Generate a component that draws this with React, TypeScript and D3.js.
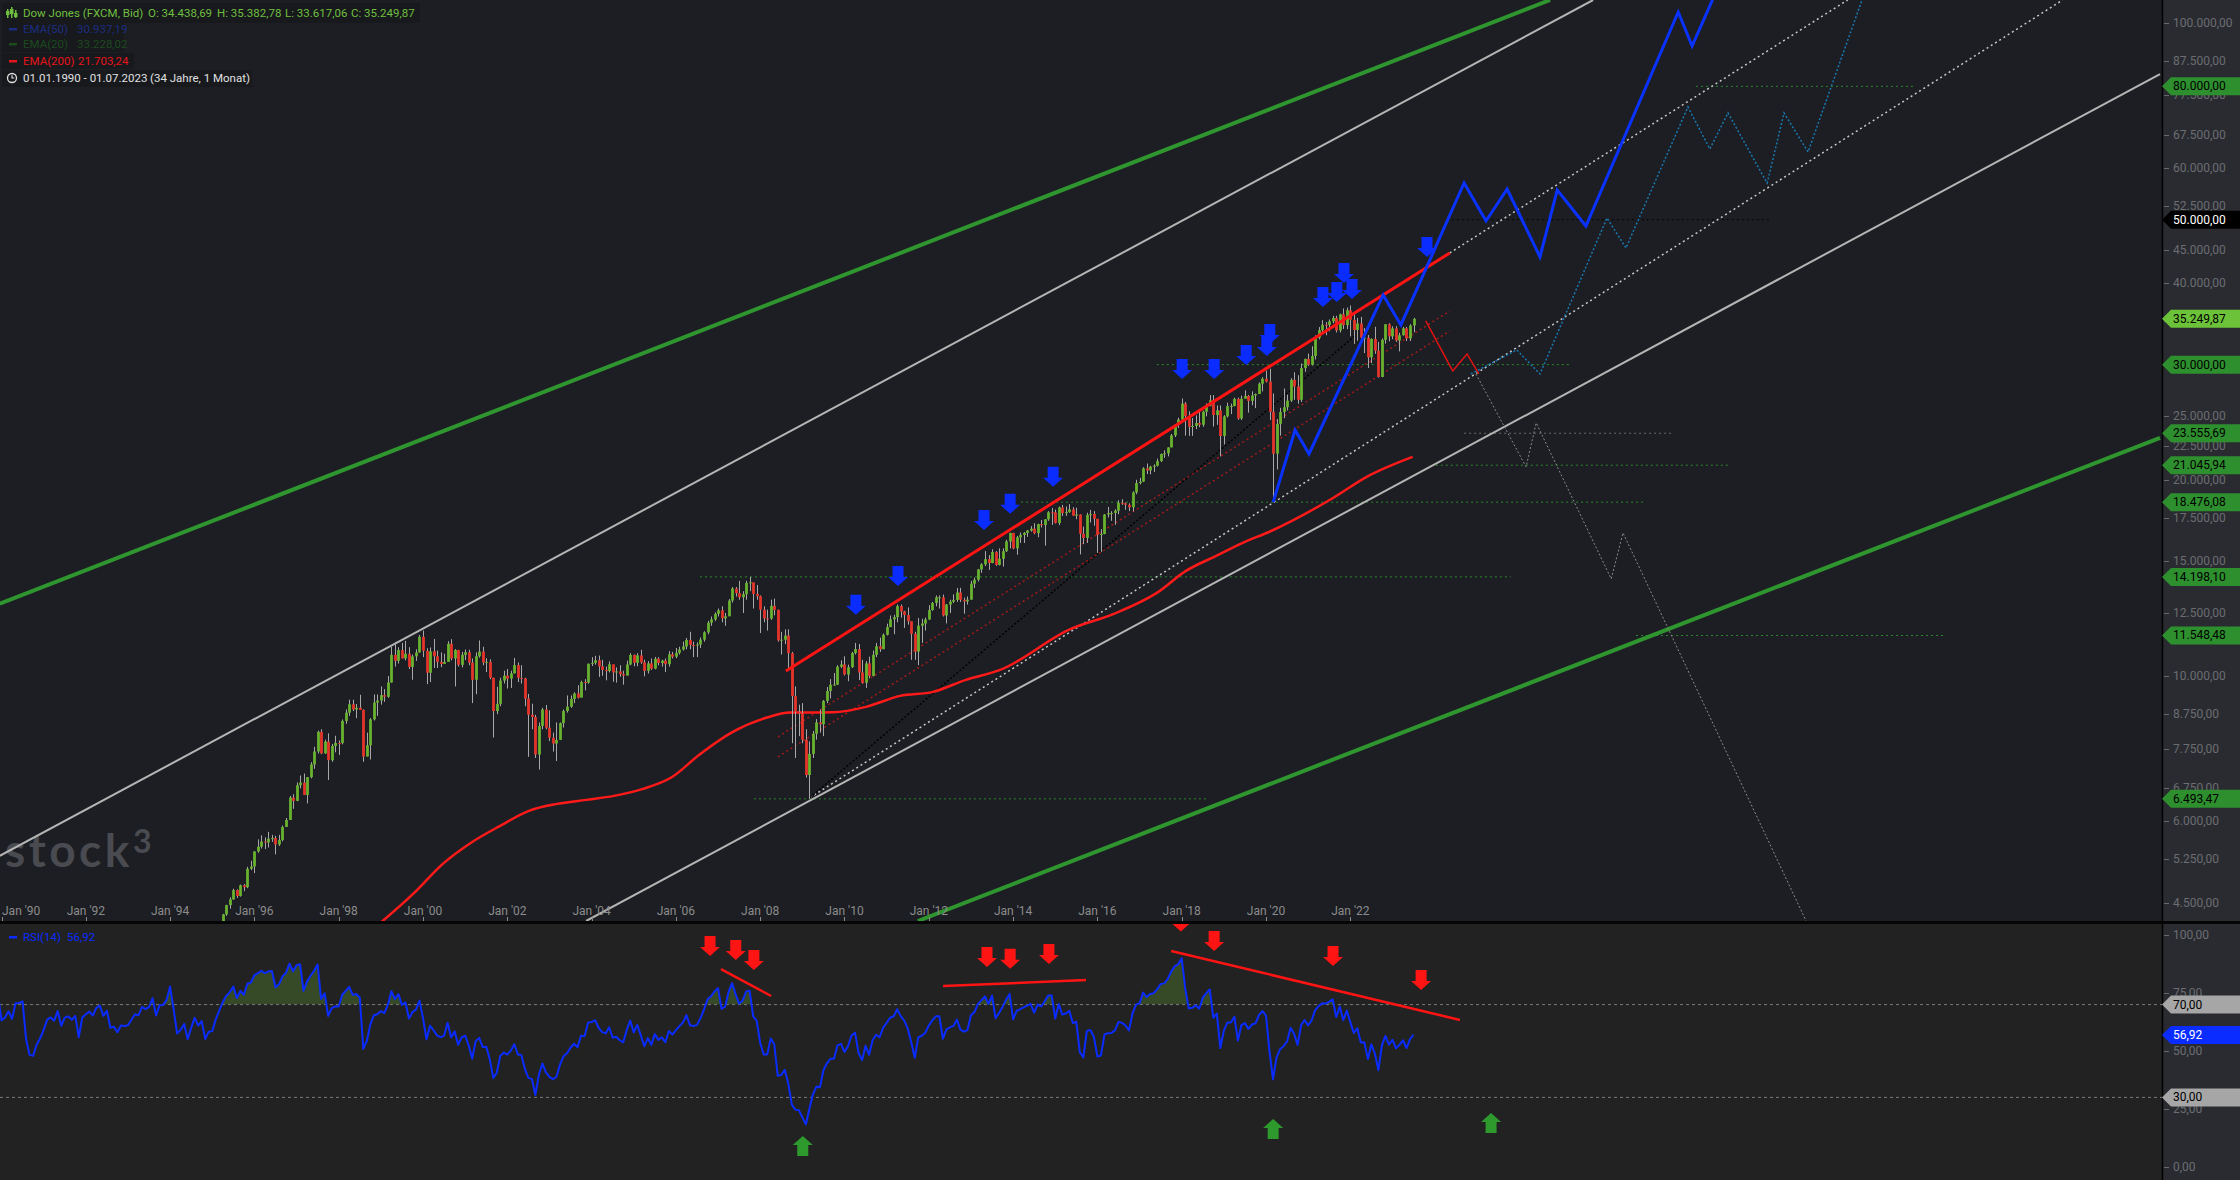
import React from 'react';
import * as d3 from 'd3';

const W = 2240, H = 1180;
const PR = 2162; // right edge of plot area
const MB = 921;  // bottom of main panel
const RT = 924;  // top of RSI panel

// ---------- DATA ----------
// Monthly closes Jan 1988 - Dec 1994 (used for RSI history)
const earlyCloses = [
  1958, 2072, 1988, 2032, 2031, 2142, 2129, 2032, 2113, 2149, 2115, 2169,
  2342, 2258, 2293, 2419, 2480, 2440, 2661, 2737, 2693, 2645, 2706, 2753,
  2591, 2627, 2707, 2657, 2877, 2881, 2905, 2614, 2453, 2442, 2560, 2634,
  2736, 2882, 2914, 2888, 3028, 2907, 3025, 3044, 3017, 3069, 2895, 3169,
  3224, 3267, 3236, 3359, 3397, 3319, 3394, 3257, 3272, 3226, 3306, 3301,
  3310, 3370, 3435, 3428, 3528, 3516, 3540, 3651, 3555, 3681, 3684, 3754,
  3978, 3832, 3636, 3682, 3758, 3625, 3765, 3913, 3843, 3908, 3739, 3834,
];
const earlyStartYear = 1988;

// Monthly candles from Jan 1995 to Jul 2023
const candleStartYear = 1995;
const firstOpen = 3834;
const closes = [
  3843, 4011, 4158, 4321, 4465, 4556, 4708, 4611, 4789, 4756, 5075, 5117,
  5395, 5486, 5587, 5569, 5643, 5655, 5529, 5616, 5882, 6029, 6522, 6448,
  6813, 6878, 6584, 7009, 7331, 7673, 8223, 7622, 7945, 7442, 7823, 7908,
  7907, 8546, 8800, 9063, 8900, 8952, 8883, 7539, 7843, 8592, 9117, 9181,
  9359, 9307, 9786, 10789, 10560, 10971, 10655, 10829, 10337, 10729, 10878, 11497,
  10941, 10128, 10922, 10734, 10522, 10448, 10522, 11215, 10651, 10971, 10415, 10787,
  10887, 10495, 9879, 10735, 10912, 10502, 10523, 9950, 8848, 9075, 9852, 10022,
  9920, 10106, 10404, 9946, 9925, 9243, 8737, 8664, 7592, 8397, 8896, 8342,
  8054, 7891, 7992, 8480, 8850, 8985, 9234, 9416, 9275, 9801, 9782, 10454,
  10488, 10584, 10358, 10226, 10188, 10435, 10140, 10174, 10080, 10027, 10428, 10783,
  10490, 10766, 10504, 10193, 10467, 10275, 10641, 10482, 10569, 10440, 10806, 10718,
  10865, 10993, 11109, 11367, 11168, 11150, 11186, 11381, 11679, 12081, 12222, 12463,
  12622, 12269, 12354, 13063, 13628, 13409, 13212, 13358, 13896, 13930, 13372, 13265,
  12650, 12266, 12263, 12820, 12638, 11350, 11378, 11544, 10851, 9325, 8829, 8776,
  8001, 7063, 7609, 8168, 8500, 8447, 9172, 9496, 9712, 9713, 10345, 10428,
  10067, 10325, 10857, 11009, 10137, 9774, 10466, 10015, 10788, 11118, 11006, 11578,
  11892, 12226, 12320, 12811, 12570, 12414, 12143, 11614, 10913, 11955, 12046, 12218,
  12633, 12952, 13212, 13214, 12393, 12880, 13009, 13091, 13437, 13096, 13026, 13104,
  13861, 14054, 14579, 14840, 15116, 14910, 15500, 14810, 15130, 15546, 16086, 16577,
  15699, 16322, 16458, 16581, 16717, 16827, 16563, 17098, 17043, 17391, 17828, 17823,
  17165, 18133, 17776, 17841, 18011, 17620, 17690, 16528, 16285, 17664, 17720, 17425,
  16466, 16517, 17685, 17774, 17787, 17930, 18432, 18401, 18308, 18142, 19124, 19763,
  19864, 20812, 20663, 20941, 21009, 21350, 21891, 21948, 22405, 23377, 24272, 24719,
  26149, 25029, 24103, 24163, 24416, 24271, 25415, 25965, 26458, 25116, 25538, 23327,
  24999, 25916, 25929, 26593, 24815, 26600, 26864, 26403, 26917, 27046, 28051, 28538,
  28256, 25409, 21917, 24346, 25383, 25813, 26428, 28430, 27782, 26502, 29638, 30606,
  29983, 30932, 32982, 33875, 34529, 34503, 34935, 35361, 33844, 35820, 34484, 36338,
  35132, 33893, 34678, 32977, 32990, 30775, 32845, 31510, 28726, 32733, 34590, 33147,
  34086, 32657, 33274, 34098, 32908, 34439, 35250,
];
const highs = [
  3900, 4030, 4170, 4330, 4470, 4590, 4730, 4720, 4800, 4810, 5110, 5220,
  5400, 5630, 5710, 5670, 5780, 5720, 5700, 5720, 5910, 6070, 6560, 6600,
  6880, 7050, 7100, 7010, 7390, 7800, 8260, 8300, 8000, 8180, 7880, 8110,
  7980, 8590, 8900, 9210, 9210, 9070, 9370, 8900, 8200, 8630, 9380, 9380,
  9650, 9560, 10010, 11090, 11290, 11080, 11250, 11330, 11080, 10800, 11000, 11570,
  11750, 11040, 11070, 11410, 10950, 10880, 10830, 11320, 11400, 11010, 10980, 10900,
  10990, 10980, 10650, 10880, 11350, 11100, 10660, 10620, 9950, 9640, 9950, 10200,
  10260, 10200, 10670, 10500, 10400, 9950, 9400, 9080, 8730, 8500, 8950, 9040,
  8870, 8200, 8500, 8500, 8900, 9350, 9350, 9450, 9690, 9850, 9900, 10460,
  10700, 10750, 10760, 10600, 10350, 10540, 10400, 10320, 10400, 10200, 10570, 10850,
  10800, 10850, 10980, 10600, 10550, 10650, 10710, 10700, 10600, 10650, 10930, 10900,
  11050, 11100, 11300, 11450, 11700, 11300, 11270, 11470, 11720, 12160, 12350, 12530,
  12700, 12800, 12500, 13130, 13700, 13700, 14000, 13500, 14000, 14198, 13700, 13800,
  13300, 12800, 12650, 13100, 13150, 12650, 11700, 11800, 11800, 10900, 9650, 9050,
  9100, 8300, 7950, 8250, 8600, 8900, 9200, 9630, 9900, 10120, 10400, 10580,
  10730, 10420, 10900, 11250, 11210, 10600, 10550, 10720, 10950, 11250, 11460, 11630,
  12040, 12390, 12420, 12880, 12880, 12600, 12750, 12130, 11700, 12280, 12250, 12300,
  12850, 13000, 13300, 13300, 13340, 12900, 13100, 13350, 13650, 13660, 13200, 13250,
  14000, 14160, 14600, 14900, 15550, 15330, 15650, 15550, 15700, 15700, 16180, 16590,
  16590, 16400, 16600, 16630, 16750, 16980, 17150, 17120, 17350, 17400, 17900, 18100,
  18000, 18200, 18300, 18200, 18350, 18150, 18120, 17700, 16950, 17800, 17980, 17900,
  17400, 16800, 17720, 18170, 17900, 18020, 18600, 18670, 18450, 18400, 19200, 19990,
  20130, 20900, 21170, 21000, 21110, 21540, 21930, 22180, 22420, 23490, 24330, 24880,
  26620, 26300, 25450, 24860, 25090, 25400, 25500, 26170, 26950, 26950, 25980, 25980,
  25100, 26240, 26150, 26700, 26700, 26900, 27400, 26950, 27300, 27100, 28170, 28700,
  29370, 29570, 27100, 24760, 25760, 27580, 27000, 28600, 29200, 28900, 30120, 30640,
  31190, 32000, 33260, 34250, 35090, 34850, 35170, 35630, 35630, 35900, 36570, 36680,
  36950, 35820, 35370, 35490, 34120, 33300, 32900, 34280, 32500, 32900, 34590, 34710,
  34340, 34350, 33570, 34260, 34260, 34590, 35383,
];
const lows = [
  3820, 3830, 4000, 4150, 4300, 4410, 4550, 4580, 4600, 4690, 4740, 5050,
  5000, 5370, 5450, 5440, 5470, 5580, 5340, 5500, 5590, 5880, 6030, 6270,
  6440, 6740, 6580, 6390, 6980, 7220, 7620, 7600, 7610, 6940, 7400, 7650,
  7580, 7870, 8460, 8700, 8850, 8630, 8880, 7400, 7540, 7460, 8560, 8700,
  9050, 9140, 9270, 9780, 10350, 10460, 10650, 10580, 10260, 9880, 10560, 10870,
  10700, 9730, 9800, 10300, 10300, 10330, 10480, 10600, 10580, 9650, 10350, 10320,
  10590, 10400, 9100, 9390, 10680, 10400, 10150, 9900, 8060, 8750, 9000, 9750,
  9580, 9600, 10100, 9800, 9750, 9000, 7530, 8300, 7500, 7200, 8300, 8300,
  7960, 7670, 7420, 7990, 8350, 8800, 8950, 9100, 9250, 9300, 9520, 9740,
  10370, 10420, 9980, 10020, 9860, 10140, 9810, 9780, 9990, 9710, 10030, 10400,
  10360, 10360, 10450, 10000, 10100, 10230, 10250, 10400, 10350, 10150, 10350, 10650,
  10660, 10800, 10950, 11000, 11000, 10700, 10700, 11050, 11300, 11600, 11950, 12150,
  12350, 12100, 11950, 12380, 12970, 13250, 13100, 12500, 13100, 13500, 12700, 13100,
  11650, 12100, 11750, 12200, 12400, 11300, 10800, 11200, 10300, 7900, 7500, 8100,
  7900, 7000, 6493, 7500, 8000, 8200, 8100, 9100, 9250, 9680, 9700, 10300,
  10030, 9830, 10300, 10800, 9870, 9750, 9600, 9930, 10000, 10700, 10900, 11000,
  11550, 11900, 11600, 12100, 12300, 11860, 12000, 10600, 10600, 10400, 11250, 11750,
  12200, 12600, 12800, 12700, 12350, 12050, 12500, 12950, 13000, 13000, 12470, 12880,
  13100, 13650, 13970, 14400, 14750, 14550, 14900, 14760, 14780, 14720, 15500, 15700,
  15650, 15350, 16000, 16000, 16350, 16650, 16500, 16330, 16900, 15850, 17300, 17050,
  17140, 17040, 17600, 17600, 17800, 17600, 17400, 15370, 15940, 16000, 17200, 17000,
  15450, 15500, 16500, 17500, 17300, 17060, 17700, 18300, 17990, 17900, 17880, 19000,
  19670, 19830, 20400, 20380, 20550, 20950, 21280, 21600, 21710, 22420, 23240, 24000,
  24700, 23360, 23340, 23340, 23900, 24060, 24100, 25000, 25900, 24120, 24270, 21710,
  22640, 24900, 25200, 25900, 24700, 24680, 26650, 25330, 26000, 25740, 27100, 27300,
  28170, 24680, 18476, 20730, 23360, 24840, 25520, 26300, 26500, 26140, 26300, 29250,
  29860, 29900, 30550, 32790, 33470, 33270, 33740, 34700, 33600, 33600, 34010, 34000,
  33150, 32270, 32630, 32920, 31250, 29650, 30150, 31160, 28660, 28700, 32300, 32570,
  32810, 32500, 31430, 33230, 32600, 32600, 33617,
];

// EMA(200)
const emaYears = [1998.5, 1999.79, 2000.47, 2001.14, 2001.83, 2002.51, 2003.19, 2003.87, 2004.53, 2005.22, 2005.89, 2006.57, 2007.35, 2008.14, 2008.71, 2009.18, 2009.73, 2010.51, 2011.32, 2012.10, 2012.88, 2013.69, 2015.37, 2016.39, 2017.41, 2018.10, 2018.77, 2019.45, 2020.12, 2021.59, 2022.39, 2023.48];
const emaValues = [3950, 4661, 5164, 5563, 5904, 6225, 6380, 6470, 6562, 6726, 7000, 7600, 8224, 8640, 8800, 8800, 8810, 8980, 9335, 9468, 9878, 10228, 11820, 12463, 13418, 14500, 15240, 16010, 16690, 18750, 20200, 21670];

// Trend lines [year, value]
const greenChannel: [number, number][][] = [
  [[1989.96, 12915], [2026.74, 108450]],
  [[2011.74, 4222], [2041.21, 23170]],
];
const grayChannel: [number, number][][] = [
  [[1989.96, 5312], [2027.76, 108450]],
  [[2003.87, 4222], [2041.21, 83550]],
];
const redChannelTop: [number, number][] = [[2008.61, 10190], [2024.36, 44470]];
const redDotted: [number, number][][] = [
  [[2008.42, 8080], [2024.36, 36250]],
  [[2008.42, 7530], [2024.36, 33780]],
];
const grayDotted: [number, number][][] = [
  [[2024.36, 44470], [2033.80, 108450]],
  [[2009.18, 6520], [2038.9, 108450]],
];
const blackDotted: [number, number][] = [[2009.18, 6520], [2022.11, 33200]];

// Projection paths
const blueYears = [2020.17, 2020.69, 2021.02, 2022.78, 2023.20, 2024.70, 2025.22, 2025.72, 2026.50, 2026.91, 2027.59, 2029.78, 2030.11, 2031.01];
const blueValues = [18476, 23830, 21900, 38350, 34500, 56900, 49770, 55710, 43850, 55520, 48900, 103950, 92220, 124850];
const tealYears = [2024.86, 2025.95, 2026.50, 2028.09, 2028.54, 2030.01, 2030.53, 2030.96, 2031.89, 2032.29, 2032.86, 2034.14];
const tealValues = [29030, 31590, 29030, 50300, 45260, 74380, 64150, 72830, 56900, 72830, 63480, 108450];
const grayZigYears = [2024.98, 2026.17, 2026.41, 2028.19, 2028.47, 2033.14];
const grayZigValues = [29030, 20920, 24430, 14100, 16580, 3810];
const redZigYears = [2023.79, 2024.43, 2024.77, 2025.05];
const redZigValues = [34990, 29340, 31150, 29030];

// Horizontal levels
const levelValues = [80000, 50000, 30000, 23555.69, 21045.94, 18476.08, 14198.10, 11548.48, 6493.47];
const levelStart = [2030.20, 2024.41, 2017.41, 2024.70, 2024.03, 2014.19, 2006.57, 2028.78, 2007.85];
const levelEnd = [2035.37, 2031.96, 2027.23, 2029.61, 2030.99, 2028.95, 2025.81, 2036.13, 2018.60];
const levelKind = ['green', 'black', 'green', 'gray', 'green', 'green', 'green', 'green', 'green'];

// Price tags on right axis
const tagValues = [80000, 50000, 35249.87, 30000, 23555.69, 21045.94, 18476.08, 14198.10, 11548.48, 6493.47];
const tagKind = ['green', 'black', 'last', 'green', 'green', 'green', 'green', 'green', 'green', 'green'];

const priceTicks = [100000, 87500, 77500, 67500, 60000, 52500, 45000, 40000, 35000, 30000, 25000, 22500, 20000, 17500, 15000, 12500, 10000, 8750, 7750, 6750, 6000, 5250, 4500];
const yearTicks = [1990, 1992, 1994, 1996, 1998, 2000, 2002, 2004, 2006, 2008, 2010, 2012, 2014, 2016, 2018, 2020, 2022];

// Blue sell arrows (tip positions)
const blueArrowYears = [2010.27, 2011.27, 2013.31, 2013.93, 2014.95, 2018.01, 2018.77, 2019.53, 2020.02, 2020.09, 2021.35, 2021.68, 2021.85, 2022.04, 2023.82];
const blueArrowValues = [12420, 13750, 16750, 17730, 19500, 28530, 28530, 29970, 30930, 32270, 36760, 37420, 40010, 37820, 43850];

// RSI panel annotations
const rsiRedArrowYears = [2006.81, 2007.42, 2007.85, 2013.38, 2013.93, 2014.85, 2017.98, 2018.77, 2021.59, 2023.68];
const rsiRedArrowValues = [91.0, 89.2, 84.9, 86.2, 85.4, 87.5, 101.5, 93.1, 86.6, 76.3];
const rsiGreenArrowYears = [2009.01, 2020.17, 2025.34];
const rsiGreenArrowValues = [13.4, 20.7, 23.3];
const rsiTrendLines: [number, number][][] = [
  [[2007.07, 85.3], [2008.26, 73.7]],
  [[2012.34, 78.0], [2015.73, 80.6]],
  [[2017.75, 93.1], [2024.60, 63.4]],
];
const rsiTicks = [100, 75, 50, 25, 0];
const rsiLast = 56.92;

// ---------- HELPERS ----------
const loc = d3.formatLocale({ decimal: ',', thousands: '.', grouping: [3], currency: ['', ''] });
const fmt2 = loc.format(',.2f');

function wilderRSI(c: number[], n = 14): (number | null)[] {
  const out: (number | null)[] = c.map(() => null);
  let g = 0, l = 0;
  for (let i = 1; i <= n; i++) {
    const d = c[i] - c[i - 1];
    if (d > 0) g += d; else l -= d;
  }
  g /= n; l /= n;
  out[n] = l === 0 ? 100 : 100 - 100 / (1 + g / l);
  for (let i = n + 1; i < c.length; i++) {
    const d = c[i] - c[i - 1];
    g = (g * (n - 1) + Math.max(d, 0)) / n;
    l = (l * (n - 1) + Math.max(-d, 0)) / n;
    out[i] = l === 0 ? 100 : 100 - 100 / (1 + g / l);
  }
  return out;
}

const downArrow = (tx: number, ty: number) =>
  `M${tx - 5.5},${ty - 20}H${tx + 5.5}V${ty - 9}H${tx + 10}L${tx},${ty}L${tx - 10},${ty - 9}H${tx - 5.5}Z`;
const upArrow = (tx: number, ty: number) =>
  `M${tx - 5.5},${ty + 20}H${tx + 5.5}V${ty + 9}H${tx + 10}L${tx},${ty}L${tx - 10},${ty + 9}H${tx - 5.5}Z`;

const FONT = 'Roboto, "Noto Sans", sans-serif';

export default function App() {
  const x = d3.scaleLinear().domain([1990, 2041.21]).range([1.5, 2160]);
  const y = d3.scaleLog().domain([4222, 108450]).range([MB, 0]);
  const yr = d3.scaleLinear().domain([0, 100]).range([1167, 935]);

  const seg = d3.line<[number, number]>().x(d => x(d[0])).y(d => y(d[1]));
  const segR = d3.line<[number, number]>().x(d => x(d[0])).y(d => yr(d[1]));
  const zip = (a: number[], b: number[]) => a.map((v, i) => [v, b[i]] as [number, number]);

  const emaPath = d3.line<[number, number]>().x(d => x(d[0])).y(d => y(d[1])).curve(d3.curveMonotoneX)(zip(emaYears, emaValues)) || '';

  const allCloses = earlyCloses.concat(closes);
  const rsi = wilderRSI(allCloses);
  const rsiPts: [number, number][] = [];
  rsi.forEach((v, i) => { if (v !== null) rsiPts.push([earlyStartYear + i / 12, v]); });
  const rsiLine = segR(rsiPts) || '';
  const rsiArea = d3.area<[number, number]>().x(d => x(d[0])).y0(yr(70)).y1(d => yr(d[1]))(rsiPts) || '';

  const candles = closes.map((c, i) => {
    const t = candleStartYear + i / 12;
    const o = i === 0 ? firstOpen : closes[i - 1];
    return { t, o, h: highs[i], l: lows[i], c };
  });

  const levelColor: Record<string, string> = { green: '#2b8a2b', black: '#050505', gray: '#6a6a6a' };
  const tagFill: Record<string, string> = { green: '#2e8f2e', black: '#000000', last: '#6cc33a' };
  const tagText: Record<string, string> = { green: '#000', black: '#fff', last: '#000' };

  return (
    <svg width={W} height={H} style={{ position: 'absolute', left: 0, top: 0, display: 'block' }} fontFamily={FONT}>
      <defs>
        <clipPath id="mainClip"><rect x={0} y={0} width={PR} height={MB} /></clipPath>
        <clipPath id="rsiClip"><rect x={0} y={RT} width={PR} height={H - RT} /></clipPath>
        <clipPath id="ob"><rect x={0} y={RT} width={PR} height={yr(70) - RT} /></clipPath>
      </defs>

      {/* backgrounds */}
      <rect x={0} y={0} width={W} height={H} fill="#1c1e23" />
      <rect x={0} y={RT} width={PR} height={H - RT} fill="#222222" />
      <rect x={PR} y={0} width={W - PR} height={H} fill="#2a2b30" />
      <rect x={0} y={MB} width={W} height={RT - MB} fill="#050505" />
      <line x1={PR + 0.5} x2={PR + 0.5} y1={0} y2={H} stroke="#000" strokeWidth={1.5} />

      {/* logo */}
      <g fill="#4a4b50" fontFamily="Lato, sans-serif" fontWeight={700}>
        <text x={5} y={867} fontSize={46} letterSpacing={3.5}>stock</text>
        <text x={133} y={853} fontSize={32}>3</text>
      </g>

      {/* MAIN PANEL */}
      <g clipPath="url(#mainClip)">
        {levelValues.map((v, i) => (
          <line key={'lv' + i} x1={x(levelStart[i])} x2={x(levelEnd[i])} y1={y(v)} y2={y(v)}
            stroke={levelColor[levelKind[i]]} strokeWidth={1} strokeDasharray="2,3" />
        ))}
        {greenChannel.map((d, i) => <path key={'gc' + i} d={seg(d) || ''} stroke="#2f952f" strokeWidth={4} fill="none" />)}
        {grayChannel.map((d, i) => <path key={'wc' + i} d={seg(d) || ''} stroke="#b5b5b5" strokeWidth={2} fill="none" />)}
        {grayDotted.map((d, i) => <path key={'gd' + i} d={seg(d) || ''} stroke="#c8c8c8" strokeWidth={1.5} strokeDasharray="2,3" fill="none" />)}
        <path d={seg(blackDotted) || ''} stroke="#000" strokeWidth={1.5} strokeDasharray="2,2" fill="none" />
        {redDotted.map((d, i) => <path key={'rd' + i} d={seg(d) || ''} stroke="#a31a1a" strokeWidth={1.5} strokeDasharray="2,3" fill="none" />)}
        <path d={emaPath} stroke="#ff1a1a" strokeWidth={2.5} fill="none" />

        {candles.map((k, i) => {
          const cx = Math.round(x(k.t)) + 0.5;
          const up = k.c >= k.o;
          const top = y(Math.max(k.o, k.c));
          const bot = y(Math.min(k.o, k.c));
          return (
            <g key={'c' + i}>
              <line x1={cx} x2={cx} y1={y(k.h)} y2={y(k.l)} stroke="#a8a8a8" strokeWidth={1} />
              <rect x={cx - 1.4} y={top} width={2.8} height={Math.max(1, bot - top)} fill={up ? '#68b22f' : '#e5332a'} />
            </g>
          );
        })}

        <path d={seg(redChannelTop) || ''} stroke="#ff1414" strokeWidth={3} fill="none" />
        <path d={seg(zip(redZigYears, redZigValues)) || ''} stroke="#e01212" strokeWidth={1.5} fill="none" />
        <path d={seg(zip(grayZigYears, grayZigValues)) || ''} stroke="#8a8a8a" strokeWidth={1} strokeDasharray="2,2" fill="none" />
        <path d={seg(zip(tealYears, tealValues)) || ''} stroke="#1a78b0" strokeWidth={1.5} strokeDasharray="2,2" fill="none" />
        <path d={seg(zip(blueYears, blueValues)) || ''} stroke="#0a32ff" strokeWidth={3} fill="none" strokeLinejoin="miter" />

        {blueArrowYears.map((t, i) => (
          <path key={'ba' + i} d={downArrow(x(t), y(blueArrowValues[i]))} fill="#0a2cff" />
        ))}
      </g>

      {/* x axis */}
      {yearTicks.map((t, i) => (
        <g key={'xt' + i}>
          <line x1={Math.round(x(t)) + 0.5} x2={Math.round(x(t)) + 0.5} y1={MB - 4} y2={MB} stroke="#8a8a8a" />
          <text x={i === 0 ? 2 : x(t)} y={911} fontSize={12} fill="#8c8c8c" textAnchor={i === 0 ? 'start' : 'middle'} dominantBaseline="central">
            {`Jan '${String(t % 100).padStart(2, '0')}`}
          </text>
        </g>
      ))}

      {/* right price axis */}
      {priceTicks.map((v, i) => (
        <g key={'pt' + i}>
          <line x1={PR + 2} x2={PR + 7} y1={Math.round(y(v)) + 0.5} y2={Math.round(y(v)) + 0.5} stroke="#66676c" />
          <text x={2173} y={y(v)} fontSize={12} fill="#6b6d73" dominantBaseline="central">{fmt2(v)}</text>
        </g>
      ))}
      {tagValues.map((v, i) => {
        const yc = y(v);
        return (
          <g key={'tg' + i}>
            <path d={`M${PR},${yc}L${PR + 9},${yc - 9}H${W}V${yc + 9}H${PR + 9}Z`} fill={tagFill[tagKind[i]]} />
            <text x={2173} y={yc} fontSize={12} fill={tagText[tagKind[i]]} dominantBaseline="central">{fmt2(v)}</text>
          </g>
        );
      })}

      {/* header */}
      <g fontSize={11.5} dominantBaseline="central">
        <rect x={2} y={3} width={418} height={20} fill="#17191d" />
        <rect x={2} y={22} width={122} height={15} fill="#17191d" />
        <rect x={2} y={37} width={122} height={15} fill="#17191d" />
        <rect x={2} y={53} width={132} height={16} fill="#17191d" />
        <rect x={2} y={70} width={250} height={17} fill="#17191d" />
        <g fill="#6fbf3f">
          <rect x={7} y={9} width={1.5} height={9} />
          <rect x={6} y={11} width={3.5} height={4} />
          <rect x={11} y={7} width={1.5} height={11} />
          <rect x={10} y={9} width={3.5} height={5} />
          <rect x={15} y={10} width={1.5} height={8} />
          <rect x={14} y={13} width={3.5} height={4} />
        </g>
        <text x={23} y={13} fill="#6fbf3f">Dow Jones (FXCM, Bid)</text>
        <text x={148} y={13} fill="#6fbf3f">O: 34.438,69</text>
        <text x={217} y={13} fill="#6fbf3f">H: 35.382,78</text>
        <text x={285} y={13} fill="#6fbf3f">L: 33.617,06</text>
        <text x={351} y={13} fill="#6fbf3f">C: 35.249,87</text>

        <rect x={9} y={28} width={8} height={2.5} fill="#1c2d80" />
        <text x={23} y={29} fill="#1c2d80">EMA(50)</text>
        <text x={77} y={29} fill="#1c2d80">30.937,19</text>

        <rect x={9} y={43} width={8} height={2.5} fill="#1d4a1d" />
        <text x={23} y={44} fill="#1d4a1d">EMA(20)</text>
        <text x={77} y={44} fill="#1d4a1d">33.228,02</text>

        <rect x={9} y={60} width={8} height={2.5} fill="#e8141a" />
        <text x={23} y={61} fill="#e8141a">EMA(200)</text>
        <text x={78} y={61} fill="#e8141a">21.703,24</text>

        <circle cx={12} cy={78} r={4.5} stroke="#e0e0e0" strokeWidth={1.3} fill="none" />
        <path d="M12,75.2V78H14.3" stroke="#e0e0e0" strokeWidth={1.2} fill="none" />
        <text x={23} y={78} fill="#e0e0e0">01.01.1990 - 01.07.2023</text>
        <text x={150} y={78} fill="#e0e0e0">(34 Jahre, 1 Monat)</text>
      </g>

      {/* RSI PANEL */}
      <g clipPath="url(#rsiClip)">
        <path d={rsiArea} fill="#364a28" clipPath="url(#ob)" />
        <line x1={0} x2={PR} y1={yr(70)} y2={yr(70)} stroke="#7a7a7a" strokeDasharray="3,3" />
        <line x1={0} x2={PR} y1={yr(30)} y2={yr(30)} stroke="#7a7a7a" strokeDasharray="3,3" />
        <path d={rsiLine} stroke="#0a2cff" strokeWidth={2} fill="none" strokeLinejoin="round" />
        {rsiTrendLines.map((d, i) => <path key={'rt' + i} d={segR(d) || ''} stroke="#ff1414" strokeWidth={2.5} fill="none" />)}
        {rsiRedArrowYears.map((t, i) => <path key={'ra' + i} d={downArrow(x(t), yr(rsiRedArrowValues[i]))} fill="#ff1414" />)}
        {rsiGreenArrowYears.map((t, i) => <path key={'ga' + i} d={upArrow(x(t), yr(rsiGreenArrowValues[i]))} fill="#2e9a2e" />)}
      </g>
      <rect x={9} y={936} width={8} height={2.5} fill="#0a2cff" />
      <text x={23} y={937} fontSize={11.5} fill="#0a2cff" dominantBaseline="central">RSI(14)</text>
      <text x={67} y={937} fontSize={11.5} fill="#0a2cff" dominantBaseline="central">56,92</text>

      {rsiTicks.map((v, i) => (
        <g key={'rtk' + i}>
          <line x1={PR + 2} x2={PR + 7} y1={Math.round(yr(v)) + 0.5} y2={Math.round(yr(v)) + 0.5} stroke="#66676c" />
          <text x={2173} y={yr(v)} fontSize={12} fill="#6b6d73" dominantBaseline="central">{fmt2(v)}</text>
        </g>
      ))}
      {[70, 30].map((v, i) => (
        <g key={'rtg' + i}>
          <path d={`M${PR},${yr(v)}L${PR + 9},${yr(v) - 9}H${W}V${yr(v) + 9}H${PR + 9}Z`} fill="#a6a6a6" />
          <text x={2173} y={yr(v)} fontSize={12} fill="#000" dominantBaseline="central">{fmt2(v)}</text>
        </g>
      ))}
      <path d={`M${PR},${yr(rsiLast)}L${PR + 9},${yr(rsiLast) - 9}H${W}V${yr(rsiLast) + 9}H${PR + 9}Z`} fill="#0a2cff" />
      <text x={2173} y={yr(rsiLast)} fontSize={12} fill="#fff" dominantBaseline="central">{fmt2(rsiLast)}</text>
    </svg>
  );
}
